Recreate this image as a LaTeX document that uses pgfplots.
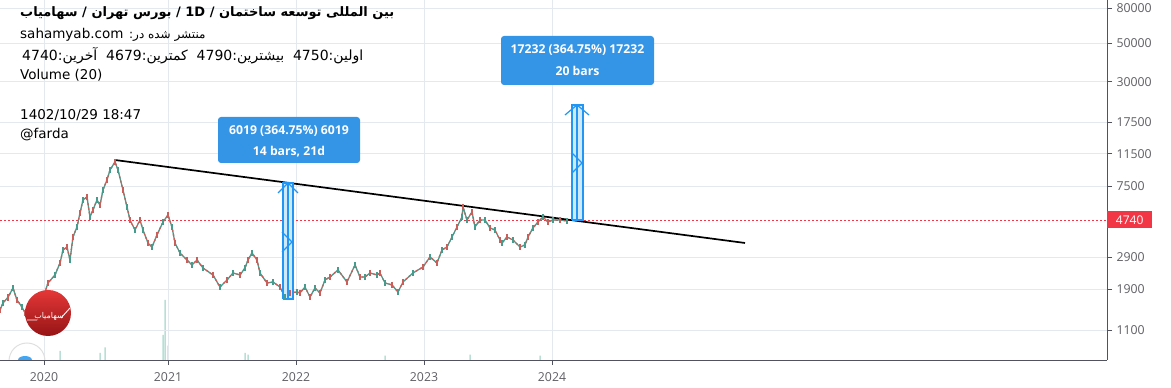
\documentclass[border=0pt]{standalone}
\usepackage{fontspec}
\setmainfont{DejaVu Sans}
\newfontfamily\fa[Script=Arabic]{DejaVu Sans}
\newfontfamily\lat{DejaVu Sans}
\newfontfamily\os{Open Sans}
\usepackage{pgfplots}
\usepackage{pgfplotstable}
\pgfplotsset{compat=1.18}
\TeXXeTstate=1
\definecolor{tvblue}{RGB}{33,150,243}
\definecolor{boxblue}{RGB}{52,148,230}
\definecolor{gridc}{RGB}{228,233,240}
\definecolor{axisc}{RGB}{80,83,94}
\definecolor{tickc}{RGB}{95,95,100}
\definecolor{upc}{RGB}{70,155,140}
\definecolor{dnc}{RGB}{200,95,90}
\definecolor{redl}{RGB}{242,54,69}
\definecolor{volc}{RGB}{185,222,212}

\pgfplotstableread{
x price
0 1437
3 1578
8 1700
13 1925
17 1641
22 1495
25 1381
32 1350
38 1480
44 1750
48 2058
55 2289
60 2686
63 3193
67 3323
70 2795
73 3796
77 4337
80 5226
83 6214
87 6465
90 4955
93 5438
97 6214
100 5813
103 7096
107 8105
110 9260
115 10302
118 9260
123 7096
127 5661
130 4760
135 4167
140 4760
143 4167
148 3505
152 3323
157 3898
163 4636
168 5088
172 4337
175 3505
180 3069
187 2795
192 2616
197 2795
203 2513
213 2289
220 1951
227 2142
233 2351
240 2289
245 2513
248 2795
252 3069
257 2795
260 2351
267 2058
273 2086
280 1951
285 1708
290 1802
297 1826
300 1802
305 1951
310 1708
315 1925
320 1802
325 2142
330 2229
338 2447
347 2086
355 2616
360 2229
365 2229
370 2351
377 2289
380 2351
385 2058
392 2004
398 1826
403 2086
413 2351
423 2546
430 2910
437 2686
442 3193
447 3323
452 3796
457 4337
462 4955
463 5661
467 4760
472 5296
475 4337
480 4760
485 4760
490 4280
495 4167
500 3648
502 3505
507 3796
513 3648
520 3323
525 3413
528 3796
533 4280
538 4636
543 4955
548 4636
553 4760
560 4760
567 4697
}\price

\begin{document}
\begin{tikzpicture}
\useasboundingbox (0pt,0pt) rectangle (1171pt,388pt);

% volume
\begin{axis}[at={(0pt,28pt)}, anchor=south west, scale only axis,
  width=1107pt, height=360pt, xmin=0, xmax=1107, ymin=0, ymax=100,
  hide axis, ybar, bar width=1.5pt]
\addplot[fill=volc, draw=none] coordinates {(60,2.5) (100,2) (105,3.5) (163,7) (165,16.7) (168,4) (245,2) (248,1.5) (385,1.2) (470,1.5) (540,1.2)};
\end{axis}

\begin{axis}[at={(0pt,28pt)}, anchor=south west, scale only axis,
  width=1107pt, height=360pt,
  xmin=0, xmax=1107, ymode=log, ymin=738.5, ymax=88960,
  axis x line*=bottom, axis y line*=right,
  axis line style={axisc, line width=0.8pt, -},
  xtick={44,168,296,424,552}, xticklabels={2020,2021,2022,2023,2024},
  ytick={1100,1900,2900,7500,11500,17500,30000,50000,80000},
  yticklabels={1100,1900,2900,7500,11500,17500,30000,50000,80000},
  yminorticks=false, xminorticks=false,
  tick align=outside, major tick length=5pt,
  tick style={axisc, line width=0.6pt},
  grid=major, major grid style={gridc, line width=0.6pt},
  ticklabel style={font=\os\fontsize{12.3}{13}\selectfont, text=tickc},
  xticklabel style={yshift=-4pt},
  yticklabel style={xshift=1pt},
  clip=false]
\addplot[redl, line width=0.7pt, dash pattern=on 2pt off 2pt] coordinates {(0,4740) (1107,4740)};
\addplot[upc, line width=1.3pt, mark=|, mark size=2.8pt, mark options={upc, line width=1.1pt}] table[x=x, y=price] {\price};
\addplot[dnc, line width=1.3pt, dash pattern=on 2pt off 2.5pt, mark=|, mark repeat=2, mark size=3.2pt, mark options={solid, dnc, line width=1.1pt}] table[x=x, y=price] {\price};
\addplot[black, line width=1.7pt] coordinates {(115,10575) (745,3505)};
% long position 1
\addplot[draw=tvblue, fill=tvblue!22, line width=1.2pt] coordinates {(283,1663) (293,1663) (293,7790) (283,7790) (283,1663)};
\addplot[tvblue, line width=1.2pt] coordinates {(288,1663) (288,7790)};
\addplot[tvblue, line width=1.2pt] coordinates {(278,6818) (288,7790) (298,6818)};
\addplot[tvblue, line width=1.2pt] coordinates {(282,4058) (292,3552) (282,3110)};
% long position 2
\addplot[draw=tvblue, fill=tvblue!22, line width=1.2pt] coordinates {(572,4760) (583,4760) (583,22000) (572,22000) (572,4760)};
\addplot[tvblue, line width=1.2pt] coordinates {(577,4760) (577,22000)};
\addplot[tvblue, line width=1.2pt] coordinates {(565,19256) (577,22000) (589,19256)};
\addplot[tvblue, line width=1.2pt] coordinates {(572,11613) (582,10164) (572,8897)};
\end{axis}

\begin{scope}[x=1pt, y=-1pt, yshift=388pt]
% red logo
\shade[top color={rgb,255:red,228;green,55;blue,55}, bottom color={rgb,255:red,150;green,20;blue,22}] (48,313) circle (23pt);
\draw[white, line width=0.9pt] (27,320) -- (37,320) (61,318) -- (70,308);
\node[white, inner sep=0, font=\fa\fontsize{8}{8}\selectfont] at (49,316) {\beginR سهامیاب\endR};
% tradingview mark
\begin{scope}
\clip (0,340) rectangle (60,360);
\draw[gray!25, line width=1pt] (27,361) circle (18pt);
\fill[tvblue!85] (25,360) ellipse (7pt and 4pt);
\end{scope}
% text block
\node[anchor=west, inner sep=0, font=\fa\bfseries\fontsize{13}{15}\selectfont] at (20,13)
  {\beginR بین المللی توسعه ساختمان / \beginL{\lat 1D}\endL{} / بورس تهران / سهامیاب\endR};
\node[anchor=west, inner sep=0, font=\fontsize{13.5}{15}\selectfont] at (20,35)
  {\beginR{\fa\fontsize{12}{13}\selectfont منتشر شده در:} \beginL{\lat sahamyab.com}\endL\endR};
\node[anchor=west, inner sep=0, font=\fa\fontsize{14}{15}\selectfont] at (22,56)
  {\beginR اولین:4750\ \ بیشترین:4790\ \ کمترین:4679\ \ آخرین:4740\endR};
\node[anchor=west, inner sep=0, font=\fontsize{13.5}{15}\selectfont] at (20,75) {Volume (20)};
\node[anchor=west, inner sep=0, font=\fontsize{13.5}{15}\selectfont] at (20,115) {1402/10/29 18:47};
\node[anchor=west, inner sep=0, font=\fontsize{13.5}{15}\selectfont] at (20,135) {@farda};
% info boxes
\fill[boxblue, rounded corners=3pt] (218,117) rectangle (360,163);
\node[white, font=\os\bfseries\fontsize{12.2}{13}\selectfont] at (289,131) {6019 (364.75\%) 6019};
\node[white, font=\os\bfseries\fontsize{12.2}{13}\selectfont] at (289,152) {14 bars, 21d};
\fill[boxblue, rounded corners=3pt] (501,36) rectangle (654,85);
\node[white, font=\os\bfseries\fontsize{12.2}{13}\selectfont] at (577.5,50) {17232 (364.75\%) 17232};
\node[white, font=\os\bfseries\fontsize{12.2}{13}\selectfont] at (577.5,71) {20 bars};
% last price label
\node[fill=redl, text=white, anchor=west, minimum height=17pt, minimum width=45pt, inner sep=0,
  font=\os\fontsize{12}{12}\selectfont] at (1107,220) {4740};
\end{scope}
\end{tikzpicture}
\end{document}
